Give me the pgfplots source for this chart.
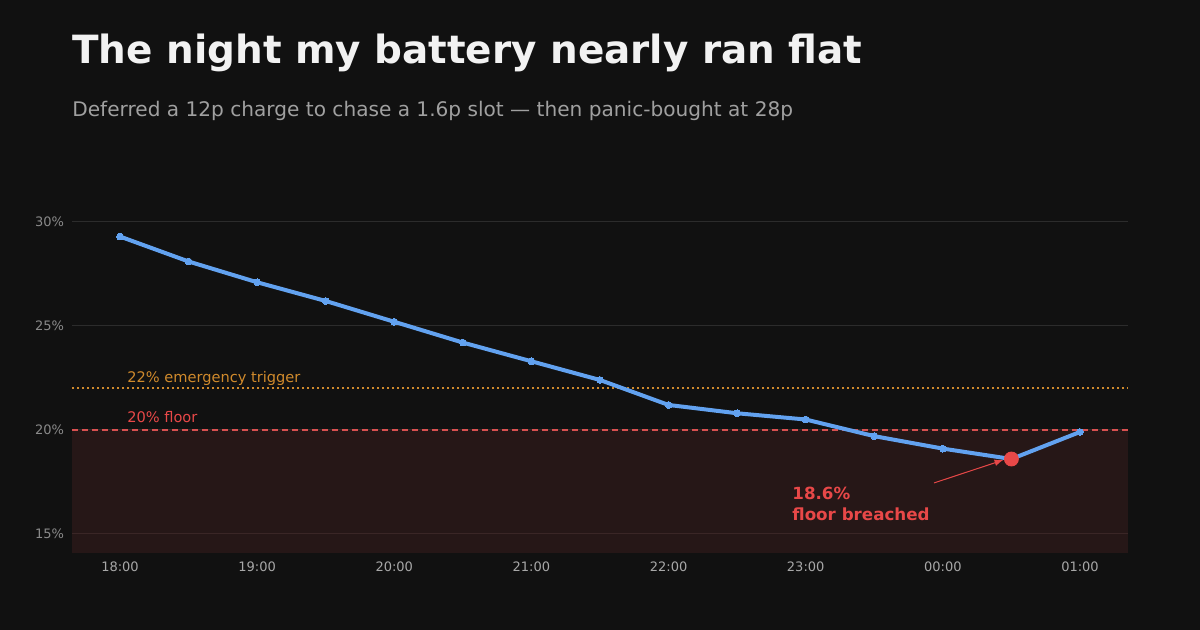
\documentclass[border=0pt]{standalone}
\usepackage{pgfplots}
\pgfplotsset{compat=1.18}
\usepackage{fontspec}
\setmainfont{DejaVu Sans}
\definecolor{bg}{HTML}{111111}
\definecolor{titlec}{HTML}{F2F2F2}
\definecolor{subc}{HTML}{A0A0A0}
\definecolor{tickc}{HTML}{8A8A8A}
\definecolor{xtickc}{HTML}{A8A8A8}
\definecolor{gridc}{HTML}{2C2C2C}
\definecolor{gridr}{HTML}{3A2626}
\definecolor{linec}{HTML}{62A2F0}
\definecolor{redc}{HTML}{E84848}
\definecolor{dashc}{HTML}{D85050}
\definecolor{orangec}{HTML}{D08A2C}
\definecolor{shadec}{HTML}{261717}
\begin{document}
\begin{tikzpicture}[x=0.5pt,y=0.5pt]
\path[use as bounding box] (0,0) rectangle (1200,630);
\fill[bg] (0,0) rectangle (1200,630);
\node[anchor=base west,inner sep=0pt,text=titlec,font=\fontsize{19.45}{22}\selectfont\bfseries] at (72,630-64) {The night my battery nearly ran flat};
\node[anchor=base west,inner sep=0pt,text=subc,font=\fontsize{10.05}{12}\selectfont] at (72,630-117) {Deferred a 12p charge to chase a 1.6p slot — then panic-bought at 28p};
\begin{axis}[
  at={(36pt,38.5pt)}, anchor=south west,
  scale only axis, width=528pt, height=181.1pt,
  xmin=-0.35, xmax=7.35, ymin=14.08, ymax=31.5,
  axis line style={draw=none},
  tick style={draw=none},
  ytick={15,20,25,30},
  yticklabels={15\%,20\%,25\%,30\%},
  xtick={0,1,2,3,4,5,6,7},
  xticklabels={18:00,19:00,20:00,21:00,22:00,23:00,00:00,01:00},
  yticklabel style={text=tickc,font=\fontsize{6.5}{8}\selectfont,xshift=-0.5pt},
  xticklabel style={text=xtickc,font=\fontsize{6.5}{8}\selectfont,yshift=-1pt},
  ymajorgrids, grid style={gridc,line width=0.5pt},
  clip=false,
]
\addplot[fill=shadec,draw=none,forget plot] coordinates {(-0.35,14.08) (7.35,14.08) (7.35,20) (-0.35,20)} -- cycle;
\addplot[gridr,line width=0.5pt,forget plot] coordinates {(-0.35,15) (7.35,15)};
\addplot[orangec,line width=1pt,dash pattern=on 1pt off 1.5pt,forget plot] coordinates {(-0.35,22) (7.35,22)};
\addplot[dashc,line width=0.9pt,dash pattern=on 3pt off 2pt,forget plot] coordinates {(-0.35,20) (7.35,20)};
\node[anchor=base west,inner sep=0pt,text=orangec,font=\fontsize{7.3}{8}\selectfont] at (axis cs:0.05,22.3) {22\% emergency trigger};
\node[anchor=base west,inner sep=0pt,text=redc,font=\fontsize{7.3}{8}\selectfont] at (axis cs:0.05,20.38) {20\% floor};
\addplot[linec,line width=2pt,mark=*,mark size=1.7pt,mark options={fill=linec,draw=linec,line width=0pt}] coordinates {
(0,29.3) (0.5,28.1) (1,27.1) (1.5,26.2) (2,25.2) (2.5,24.2) (3,23.3) (3.5,22.4)
(4,21.2) (4.5,20.8) (5,20.5) (5.5,19.7) (6,19.1) (6.5,18.6) (7,19.9)};
\addplot[only marks,mark=*,mark size=3.5pt,mark options={fill=redc,draw=redc}] coordinates {(6.5,18.6)};
\draw[redc,line width=0.5pt,-latex] (axis cs:5.936,17.45) -- (axis cs:6.44,18.55);
\node[anchor=base west,inner sep=0pt,text=redc,font=\fontsize{8.35}{9}\selectfont\bfseries] at (axis cs:4.9,16.63) {18.6\%};
\node[anchor=base west,inner sep=0pt,text=redc,font=\fontsize{8.35}{9}\selectfont\bfseries] at (axis cs:4.9,15.62) {floor breached};
\end{axis}
\end{tikzpicture}
\end{document}
